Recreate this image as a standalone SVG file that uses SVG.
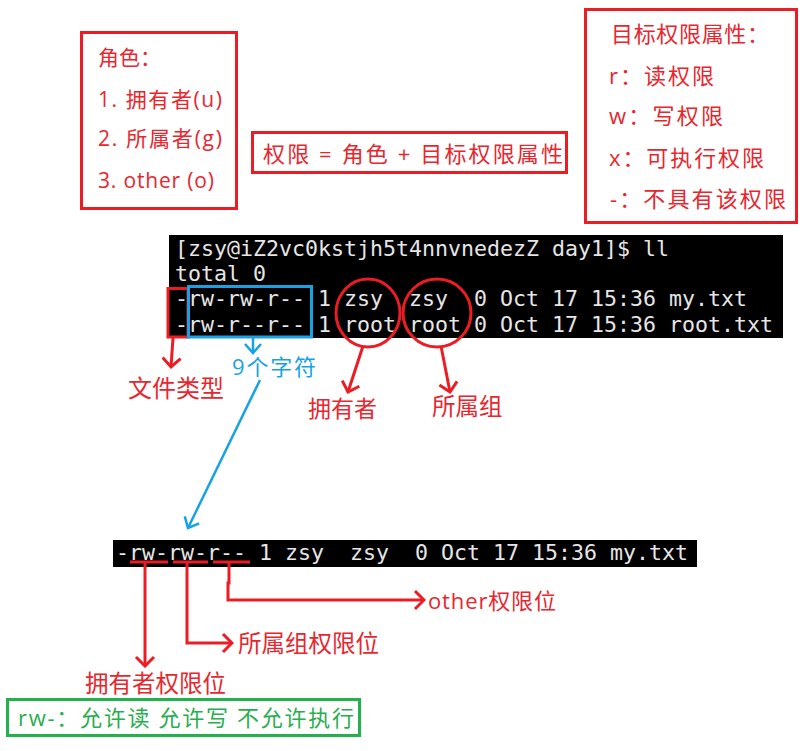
<svg xmlns="http://www.w3.org/2000/svg" width="806" height="751" viewBox="0 0 806 751">
<style>
.cjk{font-family:"Open Sans","Noto Sans CJK SC",sans-serif}
.red{fill:#e8262e}
.box{fill:none;stroke:#ec1c24;stroke-width:3}
.term{fill:#000}
.mono{font-family:"DejaVu Sans Mono",monospace;font-size:21.6px;fill:#e6e6e6;white-space:pre}
.rl{fill:none;stroke:#ec1c24;stroke-width:3}
.bl{fill:none;stroke:#17a2e4;stroke-width:2.5}
</style>
<defs>
<marker id="ra" markerUnits="userSpaceOnUse" viewBox="-12 -11 14 22" markerWidth="14" markerHeight="22" refX="0" refY="0" orient="auto">
<path d="M-9,-9 L0,0 L-9,9" fill="none" stroke="#ec1c24" stroke-width="3"/>
</marker>
<marker id="ba" markerUnits="userSpaceOnUse" viewBox="-12 -11 14 22" markerWidth="14" markerHeight="22" refX="0" refY="0" orient="auto">
<path d="M-9,-8 L0,0 L-9,8" fill="none" stroke="#17a2e4" stroke-width="2.5"/>
</marker>
</defs>
<rect width="806" height="751" fill="#fff"/>

<g id="roles-box">
<rect class="box" x="81.5" y="32.5" width="155" height="176"/>
<g class="cjk red" font-size="21">
<text x="98" y="65">角色：</text>
<text x="98" y="107" textLength="124">1. 拥有者(u)</text>
<text x="98" y="146" textLength="124">2. 所属者(g)</text>
<text x="98" y="188" textLength="116">3. other (o)</text>
</g>
</g>

<g id="formula-box">
<rect class="box" x="252.5" y="132.5" width="314" height="40"/>
<text class="cjk red" font-size="22" x="263" y="162" textLength="300">权限 = 角色 + 目标权限属性</text>
</g>

<g id="attributes-box">
<rect class="box" x="585.5" y="9.5" width="211" height="213"/>
<g class="cjk red" font-size="22">
<text x="611" y="42" textLength="158">目标权限属性：</text>
<text x="609" y="84" textLength="105">r：读权限</text>
<text x="609" y="124" textLength="114">w：写权限</text>
<text x="609" y="166" textLength="155">x：可执行权限</text>
<text x="610" y="207" textLength="176">-：不具有该权限</text>
</g>
</g>

<g id="terminal1">
<rect class="term" x="169" y="235" width="614" height="103"/>
<text class="mono" x="175" y="256">[zsy@iZ2vc0kstjh5t4nnvnedezZ day1]$ ll</text>
<text class="mono" x="175" y="281">total 0</text>
<text class="mono" x="175" y="306">-rw-rw-r-- 1 zsy  zsy  0 Oct 17 15:36 my.txt</text>
<text class="mono" x="175" y="332">-rw-r--r-- 1 root root 0 Oct 17 15:36 root.txt</text>
</g>

<g id="highlights">
<rect class="box" x="168" y="288.5" width="20" height="48.5"/>
<rect x="188.5" y="286.5" width="123" height="50.5" fill="none" stroke="#17a2e4" stroke-width="3"/>
<ellipse class="rl" cx="368" cy="313" rx="32" ry="34"/>
<ellipse class="rl" cx="437" cy="313" rx="34" ry="34"/>
</g>

<g id="terminal2">
<rect class="term" x="113" y="540" width="584" height="27"/>
<text class="mono" x="116" y="560">-rw-rw-r-- 1 zsy  zsy  0 Oct 17 15:36 my.txt</text>
</g>

<g id="connectors">
<path class="rl" d="M173,338 L171,367" marker-end="url(#ra)"/>
<path class="rl" d="M363,346 L348,392" marker-end="url(#ra)"/>
<path class="rl" d="M441,346 L450,392" marker-end="url(#ra)"/>
<path class="bl" d="M253,338 L253,353" marker-end="url(#ba)"/>
<path class="bl" d="M260,380 L188,528" marker-end="url(#ba)"/>
<path class="rl" d="M130,562 L168,562 M173,562 L208,562 M213,562 L250,562"/>
<path class="rl" d="M145,562 L145,666" marker-end="url(#ra)"/>
<path class="rl" d="M187,562 L187,643 L232,643" marker-end="url(#ra)"/>
<path class="rl" d="M229,562 L229,583 L228,583 L228,600 L424,600" marker-end="url(#ra)"/>
</g>

<g id="labels" class="cjk red">
<text font-size="24" x="128" y="397">文件类型</text>
<text font-size="22" x="232" y="375" textLength="84" fill="#17a2e4">9个字符</text>
<text font-size="23" x="308" y="417">拥有者</text>
<text font-size="23.5" x="432" y="415">所属组</text>
<text font-size="22" x="428" y="609" textLength="128">other权限位</text>
<text font-size="23.5" x="238" y="652">所属组权限位</text>
<text font-size="23.5" x="85" y="692">拥有者权限位</text>
</g>

<g id="note-box">
<rect x="7.5" y="699.5" width="352" height="36" fill="none" stroke="#22b14c" stroke-width="3"/>
<text class="cjk" font-size="22" fill="#2aad4f" x="18" y="726" textLength="336">rw-：允许读 允许写 不允许执行</text>
</g>
</svg>
